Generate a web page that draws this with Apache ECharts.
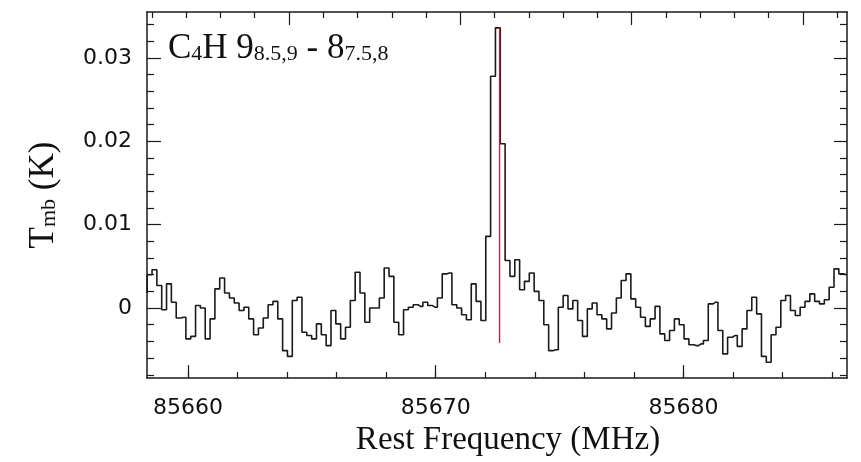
<!DOCTYPE html>
<html>
<head>
<meta charset="utf-8">
<script src="https://cdn.jsdelivr.net/npm/echarts@6/dist/echarts.min.js"></script>
<style>
  html, body { margin: 0; padding: 0; background: #fff; }
  #chart { width: 861px; height: 462px; }
</style>
</head>
<body>
<div id="chart"></div>
<script>
// channel grid of the spectrum (MHz), 195 kHz channels
const freqStart = 85658.26;
const chanWidth = 0.1952;

// Tmb per channel (K) left to right
const specValues = [
  0.0019,
  0.0040, 0.0046, 0.0027, -0.0002, 0.0029, 0.0007, -0.0012, -0.0011, -0.0037, -0.0034,
  0.0003, 0.0000, -0.0037, -0.0013, 0.0023, 0.0036, 0.0018, 0.0012, 0.0006, -0.0003,
  0.0001, -0.0013, -0.0032, -0.0024, -0.0012, 0.0004, 0.0008, -0.0013, -0.0051, -0.0058,
  0.0009, 0.0013, -0.0029, -0.0033, -0.0037,
  -0.0019, -0.0032, -0.0045, -0.0003, -0.0019, -0.0037, -0.0023, 0.0009, 0.0043, 0.0018,
  -0.0017, 0.0000, 0.0000, 0.0012, 0.0048, 0.0038, -0.0017, -0.0032, -0.0002, 0.0001,
  0.0004, 0.0002, 0.0007, 0.0003, 0.0001, 0.0012, 0.0041, 0.0042, 0.0004, 0.0000,
  -0.0008, -0.0014, 0.0029, 0.0008, -0.0015,
  0.0086, 0.0278, 0.0336, 0.0197,
  0.0057, 0.0038, 0.0058, 0.0022, 0.0032, 0.0042, 0.0020, 0.0009, -0.0020, -0.0051,
  -0.0050, 0.0001, 0.0015, -0.0001, 0.0009, -0.0015, -0.0034, -0.0001, 0.0006, -0.0008,
  -0.0013, -0.0025, -0.0006, 0.0012, 0.0033, 0.0041, 0.0011, 0.0001, -0.0011, -0.0022,
  -0.0013, 0.0002,
  -0.0031, -0.0039, -0.0027, -0.0013, -0.0020, -0.0037, -0.0044, -0.0045, -0.0043, -0.0039,
  0.0005, 0.0007, -0.0027, -0.0055, -0.0035, -0.0033, -0.0046, -0.0025, -0.0003, 0.0013,
  -0.0007, -0.0058, -0.0065, -0.0032, -0.0023, 0.0009, 0.0015, -0.0003, -0.0009, 0.0001,
  0.0008, 0.0017, 0.0008, 0.0005, 0.0010, 0.0025, 0.0047, 0.0041, 0.0040
];

// rest frequency marker
const restFreq = 85672.58;
const restLineY = [-0.0042, 0.0336];

const xRange = [85658.35, 85686.6];
const yRange = [-0.0084, 0.0355];

const xMajor = [85660, 85670, 85680];
const xMinor = [85660, 85662, 85664, 85666, 85668, 85670, 85672, 85674, 85676, 85678,
  85680, 85682, 85684, 85686];
// top axis ticks (unlabelled)
const topMajor = [85664.08, 85671.00, 85677.91, 85684.82];
const topMinor = [85658.55, 85659.93, 85661.31, 85662.69, 85665.46, 85666.85, 85668.23,
  85669.61, 85672.38, 85673.76, 85675.14, 85676.53, 85679.29, 85680.67, 85682.06,
  85683.44, 85686.21];
const yMajor = [0, 0.01, 0.02, 0.03];
const yMinor = [-0.008, -0.006, -0.004, -0.002, 0.002, 0.004, 0.006, 0.008, 0.012, 0.014,
  0.016, 0.018, 0.022, 0.024, 0.026, 0.028, 0.032, 0.034];

const ink = '#1a1a1a';

function tickAxis(position, range, ticks, len, showLine) {
  return {
    type: 'value',
    position: position,
    min: range[0],
    max: range[1],
    axisLine: { show: showLine, onZero: false, lineStyle: { color: ink, width: 1.5 } },
    axisTick: { show: true, inside: true, length: len, customValues: ticks, lineStyle: { color: ink, width: 1.2 } },
    axisLabel: { show: false },
    splitLine: { show: false }
  };
}

const chart = echarts.init(document.getElementById('chart'));

// bottom axis with labels and title
const xBottom = tickAxis('bottom', xRange, xMajor, 13, true);
xBottom.axisLabel = {
  show: true, customValues: xMajor, margin: 19,
  fontFamily: 'DejaVu Sans', fontSize: 22, color: '#111',
  formatter: v => String(v)
};
xBottom.name = 'Rest Frequency (MHz)';
xBottom.nameLocation = 'middle';
xBottom.nameGap = 43;
xBottom.nameTextStyle = { fontFamily: 'Liberation Serif', fontSize: 33, color: '#111', padding: [0, 0, 0, 22] };

// left axis with labels and title
const yLeft = tickAxis('left', yRange, yMajor, 14, true);
yLeft.axisLabel = {
  show: true, customValues: yMajor, margin: 15,
  fontFamily: 'DejaVu Sans', fontSize: 22, color: '#111'
};
yLeft.name = '{a|T}{b|mb}{a| (K)}';
yLeft.nameLocation = 'middle';
yLeft.nameGap = 86;
yLeft.nameTextStyle = {
  rich: {
    a: { fontFamily: 'Liberation Serif', fontSize: 35, color: '#111' },
    b: { fontFamily: 'Liberation Serif', fontSize: 22, color: '#111', padding: [12, 0, 0, 0] }
  }
};

const option = {
  animation: false,
  backgroundColor: '#fff',
  title: {
    text: '{m|C}{s|4}{m|H 9}{s|8.5,9}{m| - 8}{s|7.5,8}',
    left: 163,
    top: 26,
    textStyle: {
      fontWeight: 'normal',
      rich: {
        m: { fontFamily: 'Liberation Serif', fontSize: 35, fontWeight: 'normal', color: '#111' },
        s: { fontFamily: 'Liberation Serif', fontSize: 22, fontWeight: 'normal', color: '#111', padding: [11, 0, 0, 0] }
      }
    }
  },
  grid: { left: 147, right: 14, top: 12, bottom: 83 },
  xAxis: [
    xBottom,
    tickAxis('bottom', xRange, xMinor, 6, false),
    tickAxis('top', xRange, topMajor, 13, true),
    tickAxis('top', xRange, topMinor, 6, false)
  ],
  yAxis: [
    yLeft,
    tickAxis('left', yRange, yMinor, 7, false),
    tickAxis('right', yRange, yMajor, 13, true),
    tickAxis('right', yRange, yMinor, 7, false)
  ],
  series: [
    {
      type: 'line',
      step: 'middle',
      xAxisIndex: 0,
      yAxisIndex: 0,
      data: specValues.map((v, i) => [freqStart + i * chanWidth, v]),
      symbol: 'none',
      clip: true,
      lineStyle: { color: ink, width: 1.6 }
    },
    {
      type: 'line',
      xAxisIndex: 0,
      yAxisIndex: 0,
      data: restLineY.map(v => [restFreq, v]),
      symbol: 'none',
      lineStyle: { color: '#e3121c', width: 1.3 }
    }
  ]
};

chart.setOption(option);
</script>
</body>
</html>
